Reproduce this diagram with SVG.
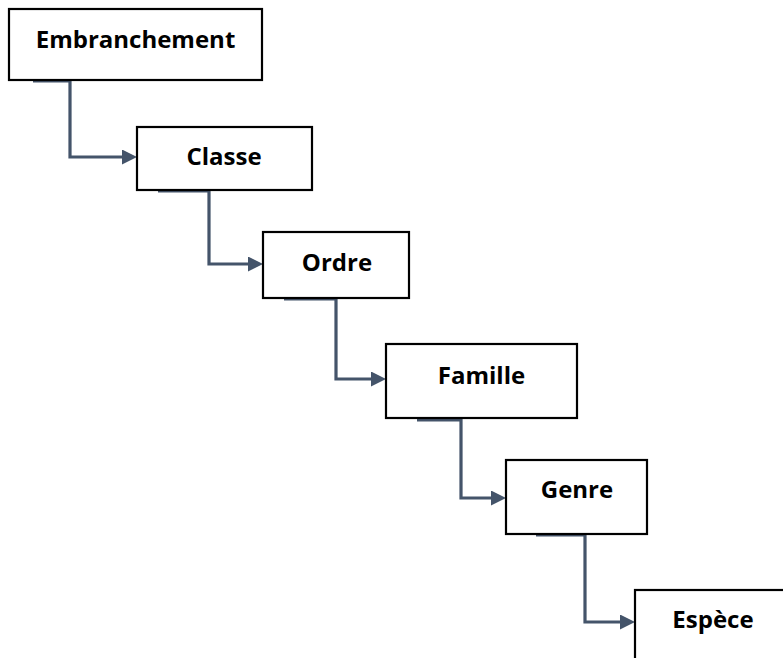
<svg xmlns="http://www.w3.org/2000/svg" width="783" height="658" viewBox="0 0 783 658">
<style>
.box{fill:#ffffff;stroke:#000000;stroke-width:2.2}
.lbl{font-family:"Open Sans","Liberation Sans",sans-serif;font-weight:700;font-size:24px;fill:#000000;text-anchor:middle}
.conn{fill:none;stroke:#44546A;stroke-width:3.2;stroke-linejoin:miter}
</style>
<defs>
<marker id="arr" viewBox="0 0 15 15" refX="2" refY="7.5" markerWidth="15" markerHeight="15" markerUnits="userSpaceOnUse" orient="auto">
<path d="M0,0 L15,7.5 L0,15 Z" fill="#44546A"/>
</marker>
</defs>
<rect width="783" height="658" fill="#ffffff"/>
<g id="connectors">
<path class="conn" d="M33,81 H70 V157 H124" marker-end="url(#arr)"/>
<path class="conn" d="M158,191 H209 V264 H250" marker-end="url(#arr)"/>
<path class="conn" d="M284,299 H336 V379 H373" marker-end="url(#arr)"/>
<path class="conn" d="M417,420 H461 V498 H493" marker-end="url(#arr)"/>
<path class="conn" d="M536,535 H585 V622 H622" marker-end="url(#arr)"/>
</g>
<g id="embranchement">
<rect class="box" x="9" y="9" width="253" height="71"/>
<text class="lbl" x="135.5" y="48">Embranchement</text>
</g>
<g id="classe">
<rect class="box" x="137" y="127" width="175" height="63"/>
<text class="lbl" x="224" y="165">Classe</text>
</g>
<g id="ordre">
<rect class="box" x="263" y="232" width="146" height="66"/>
<text class="lbl" x="337" y="271">Ordre</text>
</g>
<g id="famille">
<rect class="box" x="386" y="344" width="191" height="74"/>
<text class="lbl" x="481.5" y="384">Famille</text>
</g>
<g id="genre">
<rect class="box" x="506" y="460" width="141" height="74"/>
<text class="lbl" x="577" y="498">Genre</text>
</g>
<g id="espece">
<rect class="box" x="635" y="590" width="170" height="90"/>
<text class="lbl" x="713" y="628">Espèce</text>
</g>
</svg>
